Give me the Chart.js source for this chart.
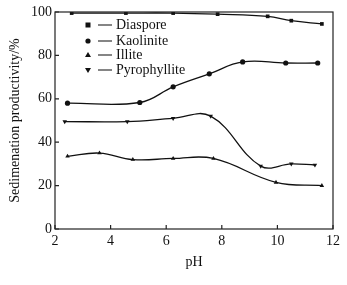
<!DOCTYPE html>
<html>
<head>
<meta charset="utf-8">
<script src="https://cdn.jsdelivr.net/npm/chart.js@4"></script>
<style>
  html, body { margin: 0; padding: 0; background: #fff; }
  #wrap { width: 347px; height: 285px; }
</style>
</head>
<body>
<div id="wrap"><canvas id="myChart" width="347" height="285"></canvas></div>
<script>
// values
const diasporePH = [2.6, 4.55, 6.25, 7.85, 9.65, 10.5, 11.6];
const diaspore = [99.5, 99.5, 99.5, 99, 98, 96, 94.5];
const kaolinitePH = [2.45, 5.05, 6.25, 7.55, 8.75, 10.3, 11.45];
const kaolinite = [58, 58.3, 65.5, 71.5, 77, 76.5, 76.5];
const illitePH = [2.45, 3.6, 4.8, 6.25, 7.7, 9.95, 11.6];
const illite = [33.5, 35, 32, 32.5, 32.5, 21.5, 20];
const pyroPH = [2.35, 4.6, 6.25, 7.6, 9.4, 10.5, 11.35];
const pyro = [49.5, 49.5, 51, 52, 29, 30, 29.5];
const names = ['Diaspore', 'Kaolinite', 'Illite', 'Pyrophyllite'];
const xTicks = [2, 4, 6, 8, 10, 12];
const yTicks = [0, 20, 40, 60, 80, 100];

const font = "'Liberation Serif', 'Times New Roman', serif";

function pts(xs, ys) {
  return xs.map((x, i) => ({ x: x, y: ys[i] }));
}

function ds(label, xs, ys, style, rot) {
  return {
    label: label,
    data: pts(xs, ys),
    borderColor: '#111',
    backgroundColor: '#111',
    borderWidth: 1.3,
    pointStyle: style,
    rotation: rot || 0,
    pointRadius: 2.6,
    pointBorderWidth: 0,
    tension: 0.4,
    fill: false
  };
}

// frame, inward ticks and legend inside the plot
const decor = {
  id: 'decor',
  afterDraw(chart) {
    const c = chart.ctx;
    const a = chart.chartArea;
    const xs = chart.scales.x, ys = chart.scales.y;
    c.save();
    c.strokeStyle = '#222';
    c.lineWidth = 1.2;
    c.strokeRect(a.left, a.top, a.right - a.left, a.bottom - a.top);
    c.beginPath();
    xTicks.forEach(v => {
      const px = xs.getPixelForValue(v);
      c.moveTo(px, a.bottom); c.lineTo(px, a.bottom - 4);
    });
    yTicks.forEach(v => {
      const py = ys.getPixelForValue(v);
      c.moveTo(a.left, py); c.lineTo(a.left + 4, py);
    });
    c.stroke();

    const rows = [25, 41, 55, 70];
    const styles = ['rect', 'circle', 'triangle', 'triangle'];
    c.font = '14px ' + font;
    c.fillStyle = '#111';
    c.textBaseline = 'middle';
    rows.forEach((y, i) => {
      const mx = 88;
      c.beginPath();
      if (styles[i] === 'rect') {
        c.fillRect(mx - 2.5, y - 2.5, 5, 5);
      } else if (styles[i] === 'circle') {
        c.arc(mx, y, 2.6, 0, Math.PI * 2); c.fill();
      } else if (i === 2) {
        c.moveTo(mx, y - 3); c.lineTo(mx + 3, y + 2); c.lineTo(mx - 3, y + 2); c.fill();
      } else {
        c.moveTo(mx, y + 3); c.lineTo(mx + 3, y - 2); c.lineTo(mx - 3, y - 2); c.fill();
      }
      c.beginPath();
      c.lineWidth = 1.1;
      c.moveTo(98, y); c.lineTo(112, y); c.stroke();
      c.fillText(names[i], 116, y);
    });
    c.restore();
  }
};

let ctx = document.getElementById('myChart').getContext('2d');
let myChart = new Chart(ctx, {
  type: 'line',
  data: {
    datasets: [
      ds(names[0], diasporePH, diaspore, 'rect'),
      ds(names[1], kaolinitePH, kaolinite, 'circle'),
      ds(names[2], illitePH, illite, 'triangle'),
      ds(names[3], pyroPH, pyro, 'triangle', 180)
    ]
  },
  options: {
    responsive: false,
    animation: false,
    devicePixelRatio: 1,
    layout: { padding: { top: 12, right: 14, left: 7, bottom: 14 } },
    plugins: {
      legend: { display: false },
      tooltip: { enabled: false }
    },
    scales: {
      x: {
        type: 'linear',
        min: 2, max: 12,
        afterFit: s => { s.height = 42; },
        afterBuildTicks: s => { s.ticks = xTicks.map(v => ({ value: v })); },
        grid: { display: false, drawTicks: false },
        border: { display: false },
        ticks: { color: '#111', font: { family: font, size: 14 }, padding: 4, maxRotation: 0 },
        title: { display: true, text: 'pH', color: '#111', font: { family: font, size: 14 }, padding: 0 }
      },
      y: {
        min: 0, max: 100,
        afterFit: s => { s.width = 48; },
        afterBuildTicks: s => { s.ticks = yTicks.map(v => ({ value: v })); },
        grid: { display: false, drawTicks: false },
        border: { display: false },
        ticks: { color: '#111', font: { family: font, size: 14 }, padding: 3 },
        title: { display: true, text: 'Sedimenation productivity/%', color: '#111', font: { family: font, size: 14 }, padding: 0 }
      }
    }
  },
  plugins: [decor]
});
</script>
</body>
</html>
